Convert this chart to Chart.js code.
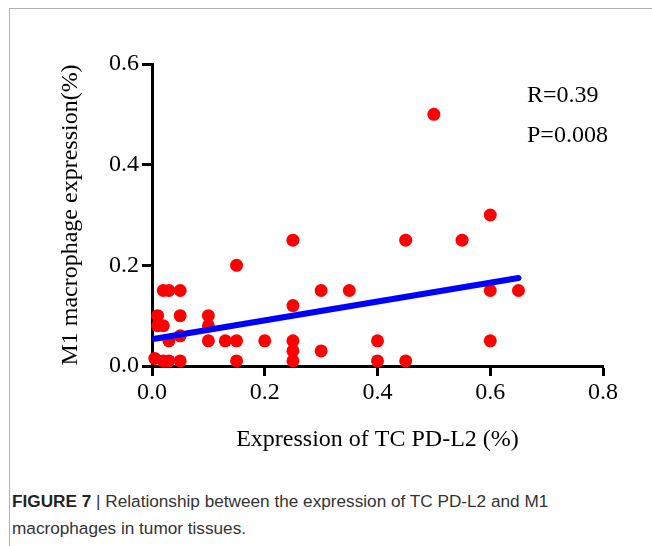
<!DOCTYPE html>
<html>
<head>
<meta charset="utf-8">
<script src="https://cdn.jsdelivr.net/npm/chart.js@4.4.1/dist/chart.umd.min.js"></script>
<style>
  html, body { margin: 0; padding: 0; background: #fff; }
  body { width: 652px; height: 546px; position: relative; overflow: hidden; }
  #frame {
    position: absolute; left: 9px; top: 8px; right: 0; bottom: 0;
    border-left: 1px solid #b0b0b0; border-top: 1px solid #b0b0b0;
  }
  #wrap { position: absolute; left: 0; top: 0; width: 652px; height: 470px; }
  #caption {
    position: absolute; left: 12px; top: 488px;
    font-family: "Liberation Sans", Arial, sans-serif;
    font-size: 17.2px; line-height: 27px; color: #333;
  }
  #caption b { color: #222; }
</style>
</head>
<body>
<div id="frame"></div>
<div id="wrap"><canvas id="scatter"></canvas></div>
<div id="caption"><b>FIGURE 7</b> | Relationship between the expression of TC PD-L2 and M1<br>macrophages in tumor tissues.</div>
<script>
// TC PD-L2 expression (x) vs M1 macrophage expression (y)
const tcPdl2 = [
  0.005, 0.02, 0.03, 0.05, 0.01, 0.01, 0.02, 0.02, 0.03, 0.05,
  0.05, 0.03, 0.05, 0.1, 0.1, 0.1, 0.13, 0.15, 0.15, 0.15,
  0.2, 0.25, 0.25, 0.25, 0.25, 0.25, 0.3, 0.3, 0.35, 0.4,
  0.4, 0.45, 0.45, 0.5, 0.55, 0.6, 0.6, 0.6, 0.65
];
const m1Expr = [
  0.015, 0.01, 0.01, 0.01, 0.1, 0.08, 0.08, 0.15, 0.15, 0.15,
  0.1, 0.05, 0.06, 0.1, 0.08, 0.05, 0.05, 0.05, 0.01, 0.2,
  0.05, 0.25, 0.12, 0.05, 0.03, 0.01, 0.15, 0.03, 0.15, 0.05,
  0.01, 0.25, 0.01, 0.5, 0.25, 0.3, 0.15, 0.05, 0.15
];

// fitted line end points as drawn
const fitX = [0.005, 0.65];
const fitY = [0.054, 0.175];

const xTicks = [0, 0.2, 0.4, 0.6, 0.8];
const yTicks = [0, 0.2, 0.4, 0.6];

const statsText = ["R=0.39", "P=0.008"];

const serif = "'Liberation Serif', 'Times New Roman', serif";

const statsPlugin = {
  id: "stats",
  afterDraw(chart) {
    const c = chart.ctx;
    c.save();
    c.font = "24px " + serif;
    c.fillStyle = "#000";
    c.textBaseline = "middle";
    c.fillText(statsText[0], 527, 96);
    c.fillText(statsText[1], 527, 136);
    c.restore();
  },
};

const ctx = document.getElementById("scatter");

new Chart(ctx, {
  type: "scatter",
  data: {
    datasets: [
      {
        label: "fit",
        data: fitX.map((x, i) => ({ x: x, y: fitY[i] })),
        showLine: true,
        borderColor: "#0000ff",
        borderWidth: 6,
        borderCapStyle: "round",
        pointRadius: 0,
        clip: false,
        order: 0,
      },
      {
        label: "samples",
        data: tcPdl2.map((x, i) => ({ x: x, y: m1Expr[i] })),
        backgroundColor: "#ff0000",
        borderColor: "#ff0000",
        borderWidth: 0,
        pointRadius: 6.5,
        clip: false,
        order: 1,
      },
    ],
  },
  options: {
    responsive: true,
    maintainAspectRatio: false,
    animation: false,
    layout: { padding: { top: 64, right: 49, left: 0, bottom: 0 } },
    plugins: {
      legend: { display: false },
      tooltip: { enabled: false },
    },
    scales: {
      x: {
        type: "linear",
        min: 0,
        max: 0.8,
        afterBuildTicks: (s) => { s.ticks = xTicks.map((v) => ({ value: v })); },
        afterFit: (s) => { s.height = 104; },
        border: { display: true, color: "#000", width: 3 },
        grid: { drawOnChartArea: false, drawTicks: true, tickLength: 10, tickColor: "#000", tickWidth: 3 },
        ticks: {
          color: "#000",
          font: { family: serif, size: 24 },
          padding: 2,
          callback: (v) => v.toFixed(1),
        },
        title: {
          display: true,
          text: "Expression of TC PD-L2 (%)",
          color: "#000",
          font: { family: serif, size: 24 },
          padding: { top: 0, bottom: 16 },
        },
      },
      y: {
        type: "linear",
        min: 0,
        max: 0.6,
        afterBuildTicks: (s) => { s.ticks = yTicks.map((v) => ({ value: v })); },
        afterFit: (s) => { s.width = 152; },
        border: { display: true, color: "#000", width: 3 },
        grid: { drawOnChartArea: false, drawTicks: true, tickLength: 10, tickColor: "#000", tickWidth: 3 },
        ticks: {
          color: "#000",
          font: { family: serif, size: 24 },
          padding: 3,
          callback: (v) => v.toFixed(1),
        },
        title: {
          display: true,
          text: "M1 macrophage expression(%)",
          color: "#000",
          font: { family: serif, size: 24 },
          padding: { top: 56, bottom: 0 },
        },
      },
    },
  },
  plugins: [statsPlugin],
});
</script>
</body>
</html>
